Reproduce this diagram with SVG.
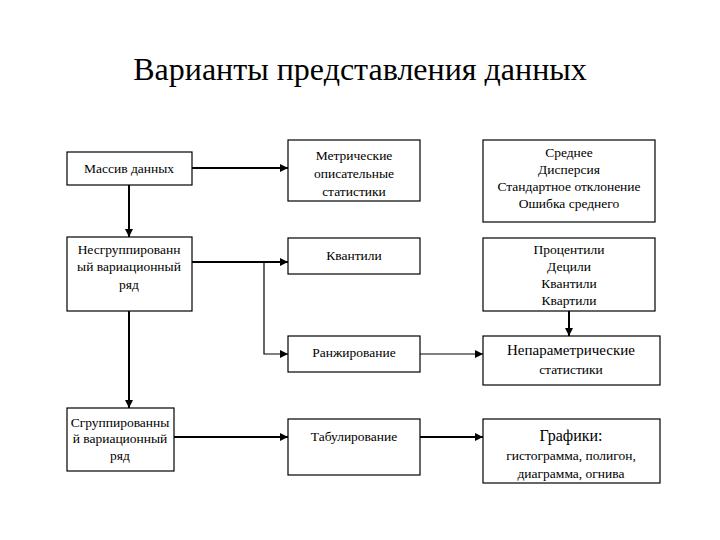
<svg xmlns="http://www.w3.org/2000/svg" width="720" height="540" viewBox="0 0 720 540" font-family="'Liberation Serif','Times New Roman','DejaVu Serif',serif">
<style>
.b{fill:#fff;stroke:#000;stroke-width:1.2}
text{font-family:"Liberation Serif","DejaVu Serif",serif;font-size:13.5px;text-anchor:middle;fill:#000}
.c{stroke:#000;stroke-width:2;fill:none;marker-end:url(#a)}
.t{stroke-width:1.2}
</style>
<defs><marker id="a" viewBox="0 0 10 10" refX="10" refY="5" markerWidth="8" markerHeight="8" markerUnits="userSpaceOnUse" orient="auto"><path d="M0,0L10,5L0,10z"/></marker></defs>
<rect width="720" height="540" fill="#fff"/>
<text x="360" y="80" style="font-size:32px">Варианты представления данных</text>
<g id="connectors">
<path class="c" d="M192,168H288"/>
<path class="c" d="M129,185V237"/>
<path class="c" d="M192,262H288"/>
<path class="c t" d="M264,262V354H288"/>
<path class="c" d="M129,311V408"/>
<path class="c" d="M174,437H288"/>
<path class="c" d="M420,437H483"/>
<path class="c t" d="M420,354H483"/>
<path class="c" d="M569,311V336"/>
</g>
<g id="n1"><rect class="b" x="67" y="152" width="125" height="33"/><text x="129" y="173">Массив данных</text></g>
<g id="n2"><rect class="b" x="67" y="237" width="125" height="74"/><text x="129" y="254">Несгруппированн</text><text x="129" y="271">ый вариационный</text><text x="129" y="289">ряд</text></g>
<g id="n3"><rect class="b" x="67" y="408" width="107" height="63"/><text x="120" y="427">Сгруппированны</text><text x="120" y="443">й вариационный</text><text x="120" y="460">ряд</text></g>
<g id="n4"><rect class="b" x="288" y="140" width="132" height="61"/><text x="354" y="160">Метрические</text><text x="354" y="178">описательные</text><text x="354" y="196">статистики</text></g>
<g id="n5"><rect class="b" x="288" y="238" width="132" height="36"/><text x="354" y="260">Квантили</text></g>
<g id="n6"><rect class="b" x="288" y="336" width="132" height="36"/><text x="354" y="357">Ранжирование</text></g>
<g id="n7"><rect class="b" x="288" y="419" width="132" height="56"/><text x="354" y="441">Табулирование</text></g>
<g id="n8"><rect class="b" x="483" y="140" width="172" height="82"/><text x="569" y="157">Среднее</text><text x="569" y="174">Дисперсия</text><text x="569" y="191">Стандартное отклонение</text><text x="569" y="208">Ошибка среднего</text></g>
<g id="n9"><rect class="b" x="483" y="238" width="172" height="73"/><text x="569" y="254">Процентили</text><text x="569" y="271">Децили</text><text x="569" y="288">Квантили</text><text x="569" y="305">Квартили</text></g>
<g id="n10"><rect class="b" x="483" y="336" width="177" height="49"/><text x="571" y="355" style="font-size:15px">Непараметрические</text><text x="571" y="374">статистики</text></g>
<g id="n11"><rect class="b" x="483" y="419" width="177" height="64"/><text x="571" y="441" style="font-size:16px">Графики:</text><text x="571" y="460">гистограмма, полигон,</text><text x="571" y="478">диаграмма, огнива</text></g>
</svg>
